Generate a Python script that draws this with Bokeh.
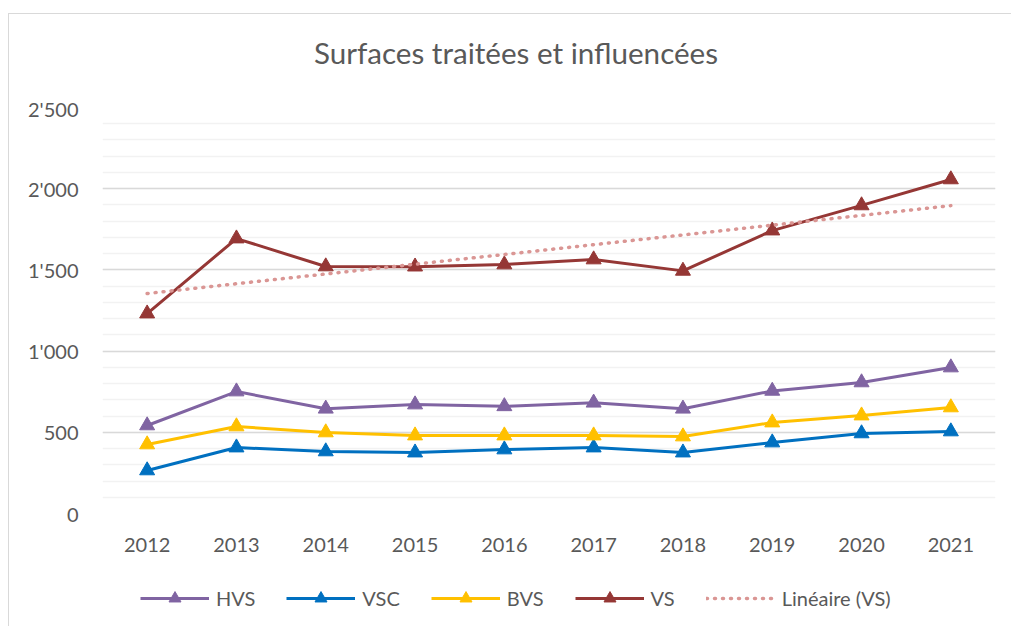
import numpy as np
from bokeh.plotting import figure
from bokeh.layouts import column
from bokeh.models import (ColumnDataSource, Legend, LegendItem, FixedTicker, Div)
from bokeh.embed import file_html
from bokeh.resources import INLINE

years = ["2012", "2013", "2014", "2015", "2016", "2017", "2018", "2019", "2020", "2021"]
hvs = [542, 751, 645, 671, 660, 682, 645, 755, 807, 899]
vsc = [265, 406, 382, 375, 394, 406, 375, 437, 493, 505]
bvs = [425, 536, 499, 480, 480, 480, 474, 560, 603, 653]
vs = [1231, 1693, 1521, 1520, 1533, 1564, 1494, 1742, 1897, 2057]
y_ticks = [0, 500, 1000, 1500, 2000, 2500]
y_tick_labels = ["0", "500", "1'000", "1'500", "2'000", "2'500"]
title_text = "Surfaces traitées et influencées"

# linear trend of VS (as the chart's "Linéaire (VS)")
xi = np.arange(len(vs))
slope, intercept = np.polyfit(xi, vs, 1)
trend = list(intercept + slope * xi)

FONT = "Lato"
TXT = "#595959"

src = ColumnDataSource(dict(x=years, hvs=hvs, vsc=vsc, bvs=bvs, vs=vs, trend=trend))

title_div = Div(text=title_text, width=1000, height=72,
                styles={"font-family": FONT, "font-size": "29.6px", "color": TXT,
                        "text-align": "center", "line-height": "68px",
                        "text-indent": "4px", "white-space": "nowrap"})

p = figure(x_range=years, y_range=(0, 2500), width=1000, height=463,
           output_backend="svg", toolbar_location=None,
           min_border_left=93, min_border_right=14, min_border_top=11,
           min_border_bottom=46)
p.outline_line_color = None
p.background_fill_color = "white"
p.border_fill_color = "white"

# axes
p.yaxis.ticker = FixedTicker(ticks=y_ticks, minor_ticks=list(range(0, 2501, 100)))
p.yaxis.major_label_overrides = {v: l for v, l in zip(y_ticks, y_tick_labels)}
p.yaxis.axis_line_color = None
p.yaxis.major_tick_line_color = None
p.yaxis.minor_tick_line_color = None
p.yaxis.major_label_standoff = 18
p.yaxis.major_label_text_font = FONT
p.yaxis.major_label_text_font_size = "20px"
p.yaxis.major_label_text_color = TXT

p.xaxis.axis_line_color = None
p.xaxis.major_tick_line_color = None
p.xaxis.minor_tick_line_color = None
p.xaxis.major_label_standoff = 18
p.xaxis.major_label_text_font = FONT
p.xaxis.major_label_text_font_size = "20px"
p.xaxis.major_label_text_color = TXT

p.xgrid.grid_line_color = None
p.ygrid.grid_line_color = "#D9D9D9"
p.ygrid.grid_line_width = 1.5
p.ygrid.minor_grid_line_color = "#F2F2F2"
p.ygrid.minor_grid_line_width = 1.5

series = [("HVS", "hvs", "#8064A2"), ("VSC", "vsc", "#0070C0"),
          ("BVS", "bvs", "#FFC000"), ("VS", "vs", "#953735")]
for name, col, color in series:
    p.line("x", col, source=src, line_color=color, line_width=3)
    p.scatter("x", col, source=src, marker="triangle", size=15,
              fill_color=color, line_color=color)
p.line("x", "trend", source=src, line_color="#DA9694", line_width=3.5,
       line_dash="1 7", line_cap="round")

# legend strip below the chart (same series, drawn out of its visible range)
lf = figure(x_range=years, y_range=(5000, 5001), width=1000, height=67,
            output_backend="svg", toolbar_location=None,
            x_axis_location=None, y_axis_location=None,
            min_border_left=0, min_border_right=0, min_border_top=0,
            min_border_bottom=0)
lf.outline_line_color = None
lf.xgrid.grid_line_color = None
lf.ygrid.grid_line_color = None
lf.background_fill_color = "white"
lf.border_fill_color = "white"

items = []
for name, col, color in series:
    l = lf.line("x", col, source=src, line_color=color, line_width=3)
    m = lf.scatter("x", col, source=src, marker="triangle", size=15,
                   fill_color=color, line_color=color)
    items.append(LegendItem(label=name, renderers=[l, m]))
tr = lf.line("x", "trend", source=src, line_color="#DA9694", line_width=3.5,
             line_dash="1 7", line_cap="round")
items.append(LegendItem(label="Linéaire (VS)", renderers=[tr]))

leg = Legend(items=items, orientation="horizontal", location=(38, 13),
             glyph_width=69, glyph_height=30, label_standoff=7, spacing=31,
             label_text_font=FONT, label_text_font_size="20px",
             label_text_color=TXT, border_line_color=None,
             background_fill_alpha=0, margin=0, padding=0)
lf.add_layout(leg, "center")

layout = column(title_div, p, lf, spacing=0)
layout.styles = {"border-left": "1px solid #D9D9D9", "border-top": "1px solid #D9D9D9",
                 "margin-top": "13px", "margin-left": "8px"}

open("out.html", "w").write(file_html(layout, INLINE))
